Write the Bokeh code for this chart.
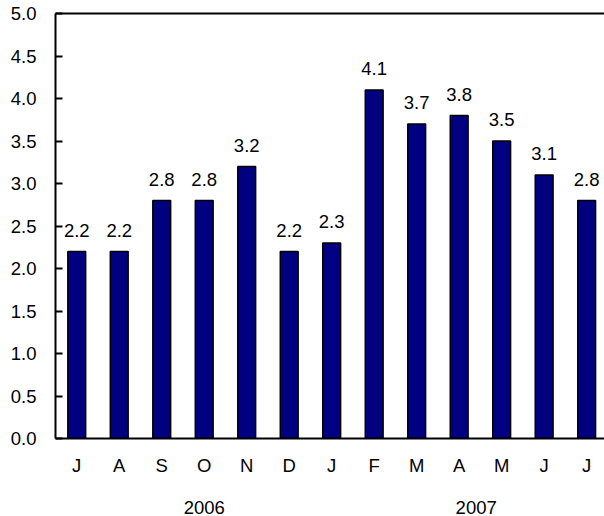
from bokeh.plotting import figure
from bokeh.models import (ColumnDataSource, FixedTicker, LinearAxis, Range1d,
                          LabelSet, PrintfTickFormatter)
from bokeh.core.properties import value
from bokeh.embed import file_html
from bokeh.resources import INLINE

months = ["J", "A", "S", "O", "N", "D", "J", "F", "M", "A", "M", "J", "J"]
values = [2.2, 2.2, 2.8, 2.8, 3.2, 2.2, 2.3, 4.1, 3.7, 3.8, 3.5, 3.1, 2.8]
years = ["2006", "2007"]
year_pos = [3.0, 9.4]
y_ticks = [0.0, 0.5, 1.0, 1.5, 2.0, 2.5, 3.0, 3.5, 4.0, 4.5, 5.0]

FONT = "Liberation Sans"
FS = "18.5px"

xs = list(range(len(months)))
src = ColumnDataSource(dict(x=xs, top=values,
                            lbl=[f"{v:.1f}" for v in values]))

p = figure(width=604, height=516, output_backend="svg", toolbar_location=None,
           x_range=Range1d(-0.5, 12.42), y_range=Range1d(0, 5),
           x_axis_location=None, y_axis_location=None,
           min_border_left=55, min_border_right=0, min_border_top=13,
           min_border_bottom=0)
p.outline_line_color = None
p.xgrid.visible = False
p.ygrid.visible = False
p.background_fill_color = "white"
p.border_fill_color = "white"

p.vbar(x="x", top="top", bottom=0, width=0.42, source=src,
       fill_color="#000080", line_color="black", line_width=1.5)

labels = LabelSet(x="x", y="top", text="lbl", source=src, y_offset=15,
                  text_align="center", text_baseline="alphabetic",
                  text_font=value(FONT), text_font_size=value(FS),
                  text_color="black")
p.add_layout(labels)

# left axis
yax = LinearAxis(ticker=FixedTicker(ticks=y_ticks))
yax.formatter = PrintfTickFormatter(format="%.1f")
yax.axis_line_width = 2
yax.axis_line_color = "black"
yax.major_tick_in = 7
yax.major_tick_out = 0
yax.major_tick_line_width = 2
yax.minor_tick_line_color = None
yax.major_label_standoff = 19
yax.major_label_text_font = FONT
yax.major_label_text_font_size = FS
yax.major_label_text_color = "black"
p.add_layout(yax, "left")

# top line
tax = LinearAxis(ticker=FixedTicker(ticks=[]))
tax.axis_line_width = 2
tax.axis_line_color = "black"
tax.major_tick_line_color = None
tax.minor_tick_line_color = None
tax.major_label_text_font_size = "0px"
p.add_layout(tax, "above")

# month axis
xax = LinearAxis(ticker=FixedTicker(ticks=xs))
xax.major_label_overrides = {i: m for i, m in zip(xs, months)}
xax.axis_line_width = 2
xax.axis_line_color = "black"
xax.major_tick_line_color = None
xax.minor_tick_line_color = None
xax.major_tick_in = 0
xax.major_tick_out = 0
xax.major_label_standoff = 16
xax.major_label_text_font = FONT
xax.major_label_text_font_size = FS
xax.major_label_text_color = "black"
p.add_layout(xax, "below")

# year axis
yrax = LinearAxis(ticker=FixedTicker(ticks=year_pos))
yrax.major_label_overrides = {pos: y for pos, y in zip(year_pos, years)}
yrax.axis_line_color = None
yrax.major_tick_line_color = None
yrax.minor_tick_line_color = None
yrax.major_tick_in = 0
yrax.major_tick_out = 0
yrax.major_label_standoff = 22
yrax.major_label_text_font = FONT
yrax.major_label_text_font_size = FS
yrax.major_label_text_color = "black"
p.add_layout(yrax, "below")

open("out.html", "w").write(file_html(p, INLINE))
